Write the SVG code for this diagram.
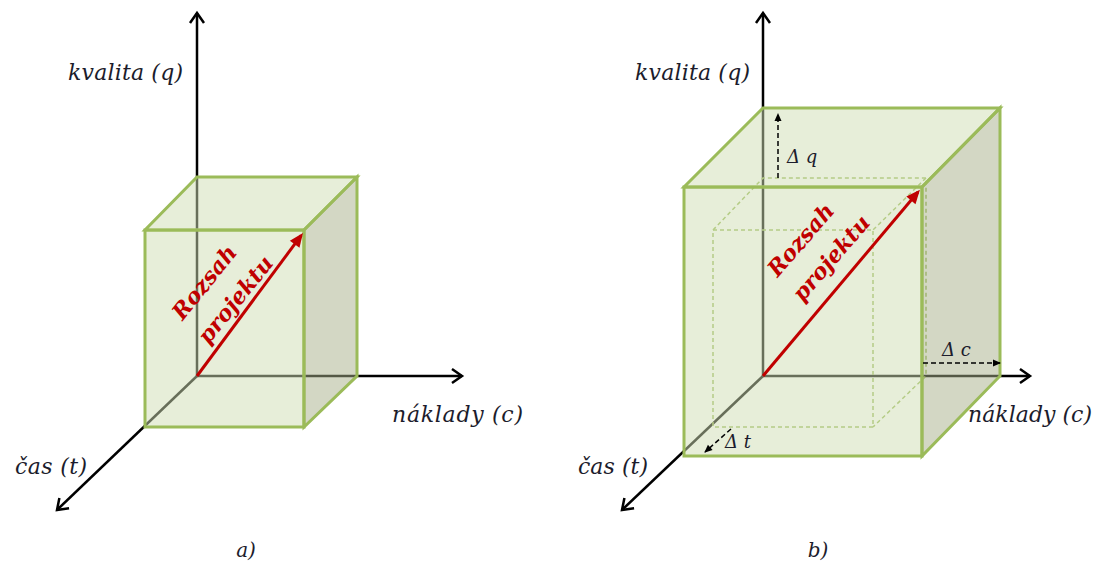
<svg xmlns="http://www.w3.org/2000/svg" width="1095" height="566" viewBox="0 0 1095 566">
<defs>
<style>
.axis{stroke:#000;stroke-width:2.5;fill:none}
.face{fill:rgb(208,222,180);fill-opacity:0.5;stroke:#9bbb59;stroke-width:3;stroke-linejoin:miter}
.side{fill:rgb(168,176,138);fill-opacity:0.5;stroke:#9bbb59;stroke-width:3}
.inner{fill:none;stroke:#9bbb59;stroke-width:1.5;stroke-dasharray:4 3}
.red{stroke:#c00000;stroke-width:3;fill:none}
.delta{stroke:#000;stroke-width:1.5;stroke-dasharray:5 3;fill:none}
.lbl{font-family:"DejaVu Serif","Liberation Serif",serif;font-style:italic;font-size:22px;fill:#1c1c2c}
.dl{font-family:"DejaVu Serif","Liberation Serif",serif;font-style:italic;font-size:18px;fill:#1c1c2c}
.rz{font-family:"DejaVu Serif","Liberation Serif",serif;font-style:italic;font-weight:bold;font-size:22px;fill:#c00000;text-anchor:middle}
</style>
<marker id="ax" viewBox="-13 -9 16 18" markerWidth="16" markerHeight="18" refX="0" refY="0" orient="auto" markerUnits="userSpaceOnUse">
<path d="M-10,-7 L0,0 L-10,7" fill="none" stroke="#000" stroke-width="2.5"/>
</marker>
<marker id="ra" viewBox="-13 -8 18 16" markerWidth="18" markerHeight="16" refX="0" refY="0" orient="auto" markerUnits="userSpaceOnUse">
<path d="M-11,-6 L3,0 L-11,6 Z" fill="#c00000"/>
</marker>
<marker id="da" viewBox="-9 -5 11 10" markerWidth="11" markerHeight="10" refX="0" refY="0" orient="auto" markerUnits="userSpaceOnUse">
<path d="M-7,-3.5 L1,0 L-7,3.5 Z" fill="#000"/>
</marker>
</defs>

<g id="connectors">
<line class="axis" x1="197" y1="376" x2="197" y2="13" marker-end="url(#ax)"/>
<line class="axis" x1="197" y1="376" x2="462" y2="376" marker-end="url(#ax)"/>
<line class="axis" x1="197" y1="376" x2="57" y2="510" marker-end="url(#ax)"/>
<line class="axis" x1="763" y1="376" x2="763" y2="13" marker-end="url(#ax)"/>
<line class="axis" x1="763" y1="376" x2="1030" y2="376" marker-end="url(#ax)"/>
<line class="axis" x1="763" y1="376" x2="622" y2="510" marker-end="url(#ax)"/>
</g>

<g id="cube-a">
<polygon class="face" points="145,230 304,230 304,427 145,427"/>
<polygon class="face" points="197,177 357,177 304,230 145,230"/>
<polygon class="side" points="304,230 357,177 357,376 304,427"/>
</g>

<g id="cube-b-inner">
<rect class="inner" x="713" y="230" width="160" height="197"/>
<polyline class="inner" points="713,230 763,178 926,178 926,376 873,427"/>
<line class="inner" x1="926" y1="178" x2="873" y2="230"/>
</g>

<g id="cube-b">
<polygon class="face" points="684,187 922,187 922,456 684,456"/>
<polygon class="face" points="763,108 1000,108 922,187 684,187"/>
<polygon class="side" points="922,187 1000,108 1000,376 922,456"/>
</g>

<g id="scope-a">
<line class="red" x1="197" y1="376" x2="301.2" y2="235.4" marker-end="url(#ra)"/>
<g transform="translate(220,291) rotate(-51)">
<text class="rz" x="-3" y="-10">Rozsah</text>
<text class="rz" x="3" y="25">projektu</text>
</g>
</g>

<g id="scope-b">
<line class="red" x1="763" y1="376" x2="918" y2="192" marker-end="url(#ra)"/>
<g transform="translate(816,249) rotate(-49)">
<text class="rz" x="-3" y="-10">Rozsah</text>
<text class="rz" x="3" y="25">projektu</text>
</g>
</g>

<g id="deltas">
<line class="delta" x1="778" y1="178" x2="778" y2="114" marker-end="url(#da)"/>
<text class="dl" x="787" y="163">Δ q</text>
<line class="delta" x1="923" y1="363" x2="1000" y2="363" marker-end="url(#da)"/>
<text class="dl" x="942" y="356">Δ c</text>
<line class="delta" x1="731" y1="429" x2="705" y2="452" marker-end="url(#da)"/>
<text class="dl" x="725" y="448">Δ t</text>
</g>

<g id="labels">
<text class="lbl" x="68" y="80" textLength="115">kvalita (q)</text>
<text class="lbl" x="392" y="422" textLength="131">náklady (c)</text>
<text class="lbl" x="15" y="474" textLength="72">čas (t)</text>
<text class="lbl" x="635" y="80" textLength="115">kvalita (q)</text>
<text class="lbl" x="968" y="422" textLength="124">náklady (c)</text>
<text class="lbl" x="578" y="474" textLength="70">čas (t)</text>
<text class="lbl" x="246" y="557" text-anchor="middle" style="font-size:20px">a)</text>
<text class="lbl" x="818" y="557" text-anchor="middle" style="font-size:20px">b)</text>
</g>
</svg>
